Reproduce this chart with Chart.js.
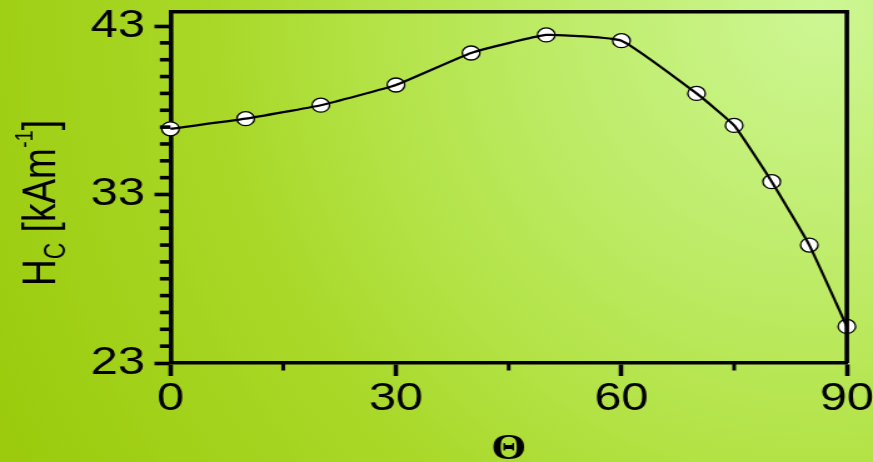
<!DOCTYPE html>
<html>
<head>
<meta charset="UTF-8">
<title>Hc vs Theta</title>
<script src="https://cdn.jsdelivr.net/npm/chart.js"></script>
<style>
    html, body { margin: 0; padding: 0; width: 873px; height: 462px; overflow: hidden; }
    body { background: radial-gradient(circle 920px at 820px 10px, #cdf794 0%, #bdeb66 30%, #b2e244 50%, #a9d828 66%, #9bcb0c 100%); }
    canvas { display: block; }
</style>
</head>
<body>
<!-- the original figure is stretched sideways, so the canvas is drawn narrow and widened by css -->
<canvas id="grafico" width="698" height="462" style="width:873px;height:462px;"></canvas>
<script>
    const thetaValues = [0, 10, 20, 30, 40, 50, 60, 70, 75, 80, 85, 90];
    const hcValues = [36.9, 37.5, 38.3, 39.5, 41.4, 42.47, 42.13, 39.0, 37.1, 33.76, 30.0, 25.17];

    const xMajorTicks = [0, 30, 60, 90];
    const xMinorTicks = [15, 45, 75];
    const yMajorTicks = [23, 33, 43];
    const yMinorTicks = [24, 25, 26, 27, 28, 29, 30, 31, 32, 34, 35, 36, 37, 38, 39, 40, 41, 42];

    const pontos = thetaValues.map((t, i) => ({ x: t, y: hcValues[i] }));

    // y title with subscript and superscript
    const tituloY = {
        id: 'tituloY',
        afterDraw(chart) {
            const ctx = chart.ctx;
            const partes = [
                { t: 'H', size: 37, dy: 0 },
                { t: 'C', size: 23, dy: 8 },
                { t: ' [kAm', size: 37, dy: 0 },
                { t: '-1', size: 20, dy: -17.6 },
                { t: ']', size: 37, dy: 0 }
            ];
            ctx.save();
            ctx.translate(44, 286);
            ctx.rotate(-Math.PI / 2);
            ctx.fillStyle = '#000';
            ctx.textBaseline = 'alphabetic';
            let x = 0;
            partes.forEach(p => {
                ctx.font = p.size + 'px "Liberation Sans"';
                ctx.fillText(p.t, x, p.dy);
                x += ctx.measureText(p.t).width;
            });
            ctx.restore();
        }
    };

    // minor ticks and the top/right frame
    const moldura = {
        id: 'moldura',
        afterDraw(chart) {
            const ctx = chart.ctx;
            const a = chart.chartArea;
            const sx = chart.scales.x, sy = chart.scales.y;
            ctx.save();
            ctx.strokeStyle = '#000';
            ctx.lineWidth = 3.6;
            yMinorTicks.forEach(v => {
                const p = sy.getPixelForValue(v);
                ctx.beginPath();
                ctx.moveTo(a.left - 8.5, p);
                ctx.lineTo(a.left, p);
                ctx.stroke();
            });
            ctx.lineWidth = 3;
            xMinorTicks.forEach(v => {
                const p = sx.getPixelForValue(v);
                ctx.beginPath();
                ctx.moveTo(p, a.bottom);
                ctx.lineTo(p, a.bottom + 7.5);
                ctx.stroke();
            });
            ctx.lineWidth = 3.5;
            ctx.beginPath();
            ctx.moveTo(a.left, a.top);
            ctx.lineTo(a.right + 1.8, a.top);
            ctx.stroke();
            ctx.lineWidth = 3.6;
            ctx.beginPath();
            ctx.moveTo(a.right, a.top);
            ctx.lineTo(a.right, a.bottom);
            ctx.stroke();
            ctx.restore();
        }
    };

    const fonteTicks = { family: 'Liberation Sans', size: 39, lineHeight: 1 };

    new Chart(document.getElementById('grafico').getContext('2d'), {
        type: 'line',
        data: {
            datasets: [
                { data: pontos, borderColor: '#000', borderWidth: 2.2, pointRadius: 0, tension: 0.12, fill: false, clip: false, order: 0 },
                { data: pontos, showLine: false, pointRadius: 7, pointBackgroundColor: '#fff', pointBorderColor: '#000', pointBorderWidth: 1.3, clip: false, order: 1 }
            ]
        },
        options: {
            responsive: false,
            animation: false,
            devicePixelRatio: 1,
            layout: { padding: { top: 11.7, right: 20.9, left: 0, bottom: 0 } },
            plugins: { legend: { display: false }, tooltip: { enabled: false } },
            scales: {
                x: {
                    type: 'linear', min: 0, max: 90, z: 1,
                    afterBuildTicks: s => { s.ticks = xMajorTicks.map(v => ({ value: v })); },
                    afterFit: s => { s.height = 99; s.paddingLeft = 0; s.paddingRight = 0; },
                    border: { display: true, color: '#000', width: 3.5 },
                    grid: { drawOnChartArea: false, drawTicks: true, tickLength: 13, tickWidth: 3.6, tickColor: '#000' },
                    ticks: { color: '#000', font: fonteTicks, padding: 4, maxRotation: 0 },
                    title: { display: true, text: 'Θ', color: '#000', font: { family: 'Liberation Serif', weight: 'bold', size: 36, lineHeight: 1 }, padding: { top: 0, bottom: -6 } }
                },
                y: {
                    type: 'linear', min: 23, max: 43.85, z: 1,
                    afterBuildTicks: s => { s.ticks = yMajorTicks.map(v => ({ value: v })); },
                    afterFit: s => { s.width = 136.3; s.paddingTop = 0; s.paddingBottom = 0; },
                    border: { display: true, color: '#000', width: 3.6 },
                    grid: { drawOnChartArea: false, drawTicks: true, tickLength: 12.8, tickWidth: 3.6, tickColor: '#000' },
                    ticks: { color: '#000', font: fonteTicks, padding: 7.5 }
                }
            }
        },
        plugins: [tituloY, moldura]
    });
</script>
</body>
</html>
